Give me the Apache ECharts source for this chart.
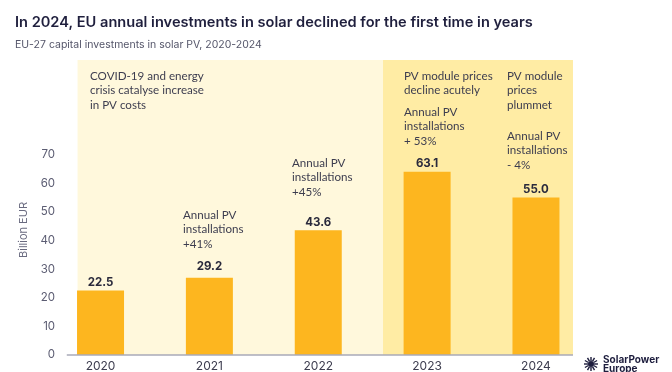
<!DOCTYPE html>
<html><head><meta charset="utf-8">
<script src="https://cdn.jsdelivr.net/npm/echarts@6/dist/echarts.min.js"></script>
<style>html,body{margin:0;padding:0;background:#fff}#c{width:672px;height:372px}</style>
</head><body><div id="c"></div>
<script>
// ---- data ----
const years = ['2020', '2021', '2022', '2023', '2024'];
const investments = [22.5, 27.0, 43.6, 64.0, 55.0];          // bar heights as drawn (Billion EUR)
const valueLabels = ['22.5', '29.2', '43.6', '63.1', '55.0']; // printed values
const yTickLabels = [0, 10, 20, 30, 40, 50, 60, 70];
const titleText = 'In 2024, EU annual investments in solar declined for the first time in years';
const subtitleText = 'EU-27 capital investments in solar PV, 2020-2024';
const yAxisTitle = 'Billion EUR';
const notes = [
  ['COVID-19 and energy', 'crisis catalyse increase', 'in PV costs'],
  ['Annual PV', 'installations', '+41%'],
  ['Annual PV', 'installations', '+45%'],
  ['PV module prices', 'decline acutely'],
  ['Annual PV', 'installations', '+ 53%'],
  ['PV module', 'prices', 'plummet'],
  ['Annual PV', 'installations', '- 4%']
];

const FONT = 'Inter, "Noto Sans", sans-serif';
const NFONT = 'Lato, "Noto Sans", sans-serif';
const TXT = '#3d3d4f';
const chart = echarts.init(document.getElementById('c'), null, {renderer: 'canvas'});

const notePos = [[90, 69], [183, 208], [292, 156], [404, 69], [404, 105], [507, 69], [507, 129]];
const graphics = notes.map((lines, i) => ({
  type: 'text', x: notePos[i][0], y: notePos[i][1], z: 100, silent: true,
  style: {text: lines.join('\n'), fill: TXT, font: '11.6px ' + NFONT, lineHeight: 14.4}
}));
graphics.push({
  type: 'text', x: 24, y: 230, rotation: Math.PI / 2, z: 100, silent: true,
  style: {text: yAxisTitle, fill: '#6a6b80', font: '11px ' + FONT, align: 'center', verticalAlign: 'middle'}
});
// logo
const rays = [];
for (let k = 0; k < 12; k++) {
  const a = k * Math.PI / 6;
  rays.push({type: 'line', shape: {x1: 591 + Math.cos(a) * 3, y1: 364 + Math.sin(a) * 3, x2: 591 + Math.cos(a) * 7, y2: 364 + Math.sin(a) * 7},
    style: {stroke: '#1d1d3d', lineWidth: 1.4}, silent: true});
}
graphics.push({type: 'group', z: 100, children: rays.concat([
  {type: 'circle', shape: {cx: 591, cy: 364, r: 3}, style: {fill: '#1d1d3d'}, silent: true},
  {type: 'text', x: 603, y: 355, silent: true, style: {text: 'SolarPower\nEurope', fill: '#1d1d3d', font: 'bold 10px ' + FONT, lineHeight: 9.5}}
])});

chart.setOption({
  animation: false,
  title: [
    {text: titleText, left: 10, top: 10, textStyle: {fontFamily: FONT, fontSize: 14.6, fontWeight: 600, color: '#1f1f3d'}},
    {text: subtitleText, left: 10, top: 34, textStyle: {fontFamily: FONT, fontSize: 10.5, fontWeight: 400, color: '#55566a'}}
  ],
  grid: {left: 46.1, right: 81.6, top: 60, bottom: 15.3},
  xAxis: [
    {type: 'category', data: years, axisLine: {show: false}, axisTick: {show: false},
     axisLabel: {color: TXT, fontFamily: FONT, fontSize: 12, margin: 5}},
    {type: 'value', min: -0.5, max: 4.5, show: false}
  ],
  yAxis: {type: 'value', min: 0, max: 103, interval: 10, offset: -9,
    axisLine: {show: false}, axisTick: {show: false}, splitLine: {show: false},
    axisLabel: {margin: 0, color: '#5b5c72', fontFamily: FONT, fontSize: 11.5, showMaxLabel: false,
      formatter: v => (yTickLabels.indexOf(v) >= 0 ? String(v) : '')}},
  series: [
    {type: 'line', xAxisIndex: 1, yAxisIndex: 0, data: [], z: 0, silent: true,
     markArea: {silent: true, data: [
       [{xAxis: -0.211, yAxis: 0, itemStyle: {color: '#fff8dc'}}, {xAxis: 2.595, yAxis: 103}],
       [{xAxis: 2.595, yAxis: 0, itemStyle: {color: '#ffeca4'}}, {xAxis: 4.34, yAxis: 103}]
     ]},
     markLine: {silent: true, symbol: 'none', label: {show: false},
       lineStyle: {color: '#a9aab8', width: 1.5, type: 'solid'},
       data: [[{coord: [-0.31, 0]}, {coord: [4.34, 0]}]]}
    },
    {type: 'bar', xAxisIndex: 0, yAxisIndex: 0, z: 2, barWidth: 47,
     itemStyle: {color: '#fdb61f'},
     data: investments.map((v, i) => ({value: v, label: {distance: i === 1 ? 5 : 2}})),
     label: {show: true, position: 'top', color: '#2a2a3c', fontFamily: FONT, fontSize: 11.5, fontWeight: 700,
       formatter: p => valueLabels[p.dataIndex]}}
  ],
  graphic: graphics
});
</script></body></html>
